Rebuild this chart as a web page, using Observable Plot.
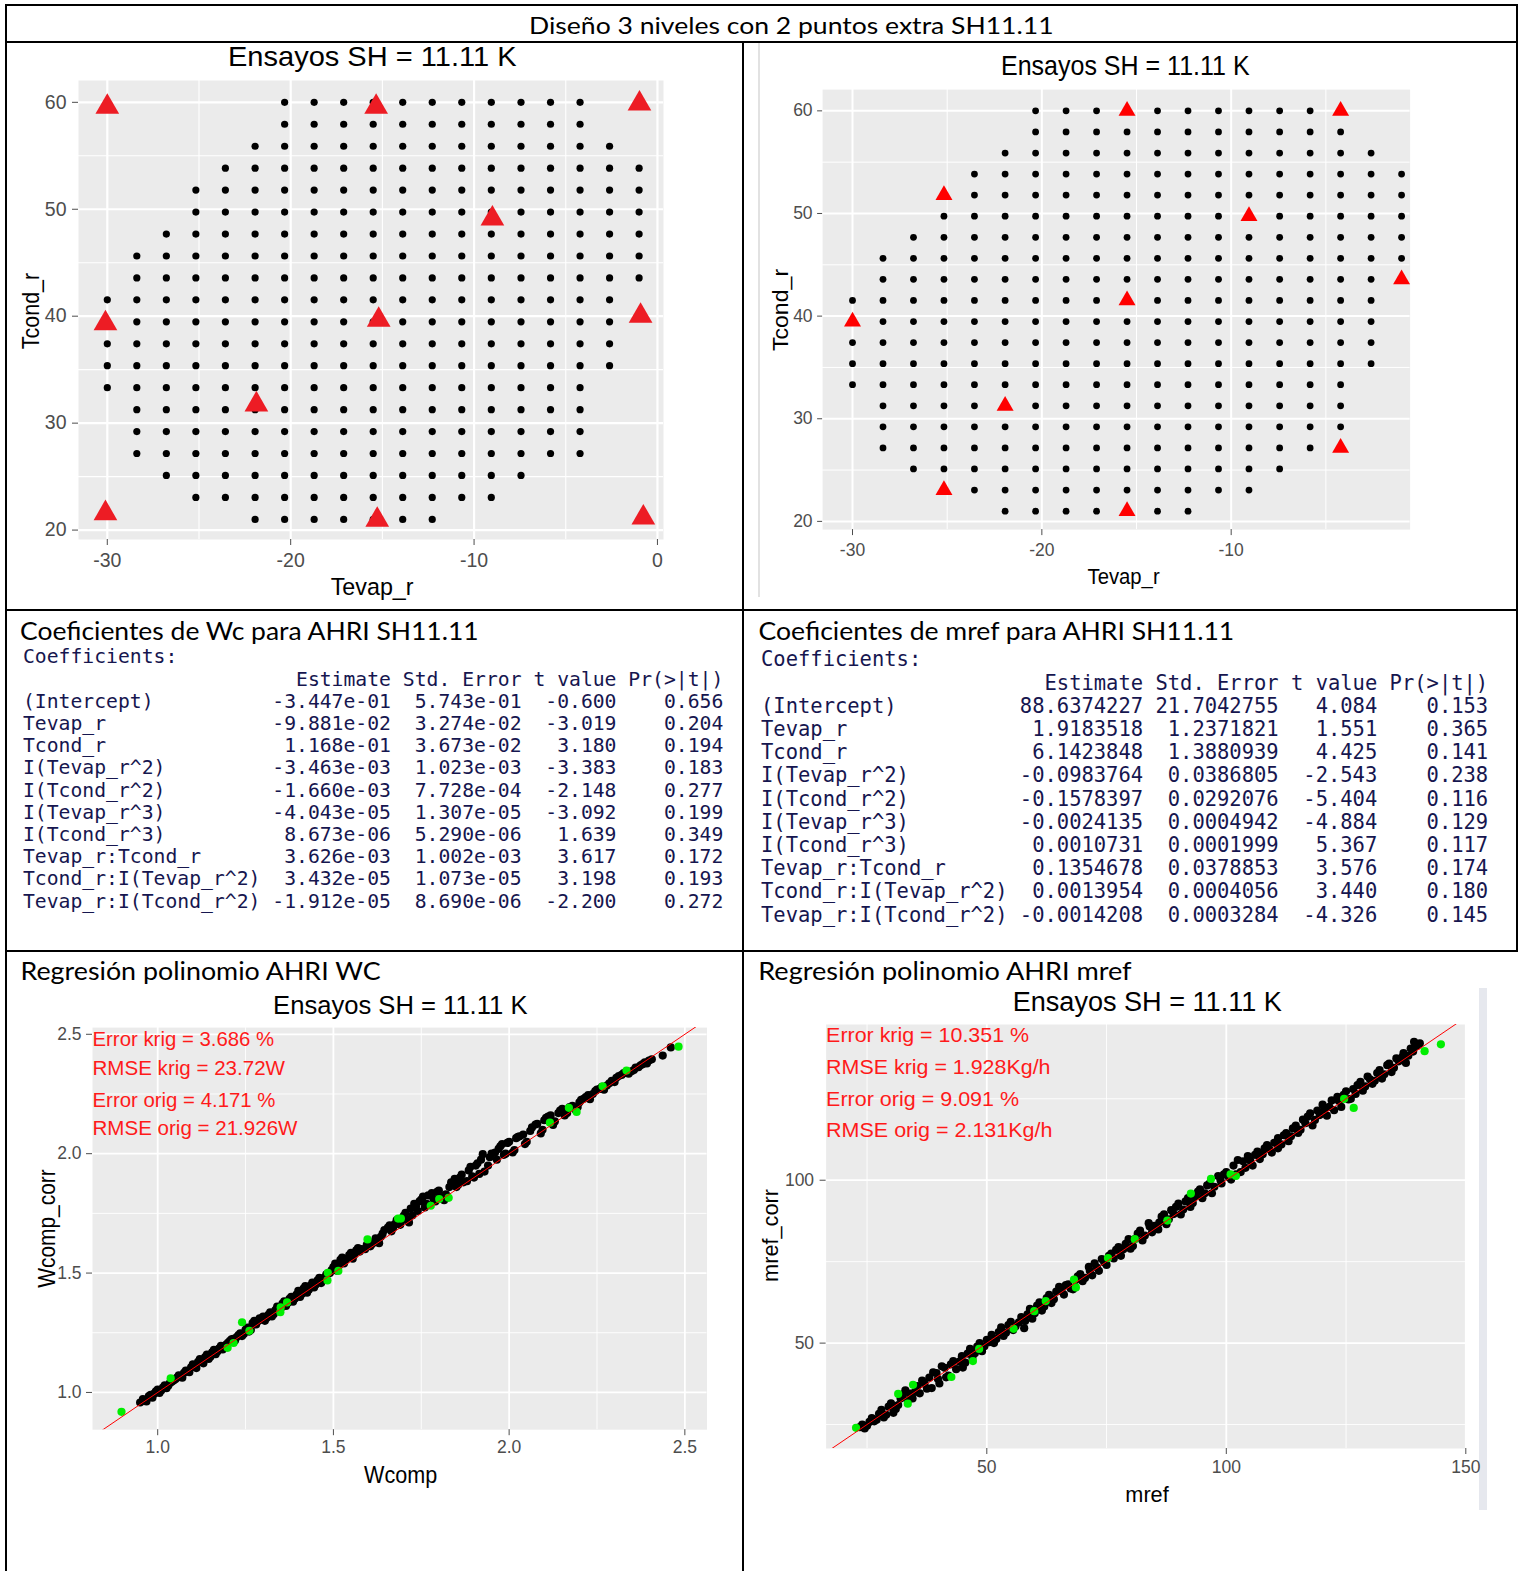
<!DOCTYPE html>
<html><head><meta charset="utf-8">
<script src="https://cdn.jsdelivr.net/npm/d3@7"></script>
<script src="https://cdn.jsdelivr.net/npm/@observablehq/plot@0.6"></script>
<style>
html,body{margin:0;padding:0;background:#fff;overflow:hidden;}
#page{position:relative;width:1521px;height:1571px;overflow:hidden;background:#fff;}
.lbl{position:absolute;white-space:nowrap;line-height:1;}
pre.tbl{position:absolute;margin:0;font-family:"DejaVu Sans Mono",monospace;color:#16164f;white-space:pre;}
.ln{position:absolute;background:#000;}
</style></head><body><div id="page"></div>
<script>
// ---------------- DATA ----------------
const figTitle = "Diseño 3 niveles con 2 puntos extra SH11.11";
const plotTitle = "Ensayos SH = 11.11 K";
const headWc = "Coeficientes de Wc para AHRI SH11.11";
const headMref = "Coeficientes de mref para AHRI SH11.11";
const headRegWc = "Regresión polinomio AHRI WC";
const headRegMref = "Regresión polinomio AHRI mref";

// test grid (Tevap_r columns, Tcond_r rows)
const tevapLevels = [-30,-28.39,-26.78,-25.17,-23.56,-21.94,-20.33,-18.72,-17.11,-15.5,-13.89,-12.28,-10.67,-9.06,-7.44,-5.83,-4.22,-2.61,-1];
const tcondLevels = [60,57.95,55.89,53.84,51.79,49.74,47.68,45.63,43.58,41.53,39.47,37.42,35.37,33.32,31.26,29.21,27.16,25.11,23.05,21];
// first and last column index present in each row
const rowSpanLeft  = [[6,16],[6,16],[5,17],[4,18],[3,18],[3,18],[2,18],[1,18],[1,18],[0,17],[0,17],[0,17],[0,17],[0,16],[1,16],[1,16],[1,16],[2,14],[3,13],[5,11]];
const rowSpanRight = [[6,16],[6,16],[5,17],[4,18],[4,18],[3,18],[2,18],[1,18],[1,17],[0,17],[1,17],[0,17],[0,17],[0,16],[1,16],[1,16],[1,15],[2,14],[4,13],[5,11]];
// design points (red triangles)
const triLeftTevap = [-30,-15.34,-0.98,-9.0,-30.1,-15.2,-0.92,-21.87,-30.1,-15.28,-0.77];
const triLeftTcond = [59.56,59.56,59.87,49.11,39.32,39.66,40.03,31.74,21.57,20.96,21.17];
const triRightTevap = [-15.5,-4.22,-25.17,-9.06,-1,-15.5,-30,-21.94,-4.22,-25.17,-15.5];
const triRightTcond = [60,60,51.79,49.74,43.58,41.53,39.47,31.26,27.16,23.05,21];

// coefficient tables
const coefNames = ["(Intercept)","Tevap_r","Tcond_r","I(Tevap_r^2)","I(Tcond_r^2)","I(Tevap_r^3)","I(Tcond_r^3)","Tevap_r:Tcond_r","Tcond_r:I(Tevap_r^2)","Tevap_r:I(Tcond_r^2)"];
const coefHeader = ["Estimate","Std. Error","t value","Pr(>|t|)"];
const wcEstimate = ["-3.447e-01","-9.881e-02","1.168e-01","-3.463e-03","-1.660e-03","-4.043e-05","8.673e-06","3.626e-03","3.432e-05","-1.912e-05"];
const wcStdErr = ["5.743e-01","3.274e-02","3.673e-02","1.023e-03","7.728e-04","1.307e-05","5.290e-06","1.002e-03","1.073e-05","8.690e-06"];
const wcTvalue = ["-0.600","-3.019","3.180","-3.383","-2.148","-3.092","1.639","3.617","3.198","-2.200"];
const wcPvalue = ["0.656","0.204","0.194","0.183","0.277","0.199","0.349","0.172","0.193","0.272"];
const mrefEstimate = ["88.6374227","1.9183518","6.1423848","-0.0983764","-0.1578397","-0.0024135","0.0010731","0.1354678","0.0013954","-0.0014208"];
const mrefStdErr = ["21.7042755","1.2371821","1.3880939","0.0386805","0.0292076","0.0004942","0.0001999","0.0378853","0.0004056","0.0003284"];
const mrefTvalue = ["4.084","1.551","4.425","-2.543","-5.404","-4.884","5.367","3.576","3.440","-4.326"];
const mrefPvalue = ["0.153","0.365","0.141","0.238","0.116","0.129","0.117","0.174","0.180","0.145"];

// regression Wcomp: [Wcomp, Wcomp_corr]
const wcBlack = [[0.950,0.958],[0.962,0.965],[0.975,0.985],[0.985,0.978],[0.995,1.005],[1.005,0.998],[1.015,1.020],[1.025,1.018],[1.035,1.040],[1.045,1.050],[1.055,1.062],[1.065,1.070],[1.075,1.082],[1.085,1.090],[1.095,1.105],[1.105,1.110],[1.115,1.128],[1.125,1.130],[1.135,1.148],[1.145,1.140],[1.155,1.168],[1.165,1.160],[1.175,1.185],[1.185,1.180],[1.195,1.200],[1.205,1.215],[1.215,1.225],[1.225,1.232],[1.235,1.248],[1.245,1.245],[1.255,1.272],[1.265,1.262],[1.275,1.300],[1.285,1.298],[1.295,1.305],[1.305,1.300],[1.315,1.325],[1.325,1.318],[1.335,1.345],[1.345,1.340],[1.355,1.372],[1.365,1.362],[1.375,1.392],[1.385,1.380],[1.395,1.410],[1.405,1.400],[1.415,1.435],[1.425,1.418],[1.435,1.448],[1.445,1.440],[1.455,1.470],[1.465,1.458],[1.475,1.482],[1.490,1.500],[1.500,1.525],[1.510,1.510],[1.520,1.555],[1.530,1.540],[1.545,1.575],[1.555,1.560],[1.565,1.595],[1.575,1.590],[1.590,1.600],[1.605,1.612],[1.615,1.630],[1.630,1.625],[1.640,1.665],[1.655,1.690],[1.665,1.675],[1.675,1.705],[1.690,1.702],[1.700,1.740],[1.715,1.712],[1.720,1.770],[1.735,1.780],[1.745,1.800],[1.755,1.820],[1.765,1.790],[1.780,1.835],[1.790,1.800],[1.800,1.845],[1.815,1.805],[1.830,1.860],[1.845,1.895],[1.855,1.870],[1.865,1.912],[1.880,1.885],[1.890,1.945],[1.900,1.900],[1.910,1.960],[1.925,1.998],[1.930,1.925],[1.945,1.985],[1.960,2.005],[1.975,2.031],[1.985,1.995],[1.995,2.045],[2.010,2.005],[2.020,2.065],[2.030,2.073],[2.045,2.040],[2.060,2.095],[2.075,2.122],[2.090,2.085],[2.100,2.140],[2.111,2.155],[2.125,2.120],[2.140,2.170],[2.151,2.188],[2.165,2.170],[2.180,2.200],[2.195,2.195],[2.205,2.225],[2.218,2.237],[2.230,2.228],[2.245,2.262],[2.258,2.271],[2.270,2.268],[2.285,2.295],[2.300,2.300],[2.312,2.325],[2.326,2.337],[2.340,2.335],[2.355,2.350],[2.368,2.362],[2.380,2.375],[2.392,2.378],[2.406,2.395],[2.437,2.411],[2.460,2.445],
  [0.958,0.972],[0.968,0.962],[0.980,0.990],[0.990,0.995],[1.000,1.012],[1.010,1.008],[1.020,1.030],[1.030,1.028],[1.040,1.045],[1.050,1.055],[1.060,1.072],[1.070,1.062],[1.080,1.092],[1.090,1.085],[1.100,1.118],[1.110,1.102],[1.120,1.140],[1.130,1.122],[1.140,1.158],[1.150,1.150],[1.160,1.178],[1.170,1.172],[1.180,1.195],[1.190,1.188],[1.200,1.208],[1.210,1.222],[1.220,1.218],[1.230,1.240],[1.240,1.236],[1.250,1.262],[1.260,1.255],[1.270,1.290],[1.280,1.285],[1.290,1.310],[1.300,1.318],[1.310,1.312],[1.320,1.335],[1.330,1.328],[1.340,1.360],[1.350,1.352],[1.360,1.382],[1.370,1.375],[1.380,1.400],[1.390,1.392],[1.400,1.425],[1.410,1.412],[1.420,1.445],[1.430,1.430],[1.440,1.460],[1.450,1.452],[1.460,1.480],[1.470,1.470],[1.480,1.495],[1.495,1.512],[1.505,1.540],[1.515,1.530],[1.525,1.565],[1.535,1.555],[1.550,1.585],[1.560,1.578],[1.570,1.605],[1.580,1.600],[1.595,1.618],[1.610,1.622],[1.620,1.645],[1.635,1.652],[1.645,1.680],[1.660,1.700],[1.670,1.690],[1.680,1.722],[1.695,1.720],[1.705,1.752],[1.710,1.725],[1.725,1.742],[1.730,1.790],[1.740,1.760],[1.750,1.808],[1.760,1.775],[1.770,1.825],[1.785,1.810],[1.795,1.840],[1.805,1.822],[1.820,1.830],[1.835,1.880],[1.850,1.860],[1.860,1.900],[1.870,1.880],[1.885,1.930],[1.895,1.905],[1.905,1.950],[1.915,1.915],[1.920,1.975],[1.940,1.950],[1.950,2.000],[1.965,1.975],[1.970,2.020],[1.980,2.040],[1.990,2.000],[2.000,2.050],[2.015,2.015],[2.025,2.070],[2.040,2.080],[2.050,2.050],[2.065,2.110],[2.080,2.125],[2.095,2.100],[2.105,2.150],[2.118,2.160],[2.130,2.135],[2.145,2.180],[2.158,2.160],[2.172,2.195],[2.188,2.185],[2.200,2.215],[2.212,2.230],[2.225,2.245],[2.238,2.250],[2.250,2.268],[2.264,2.280],[2.278,2.285],[2.292,2.305],[2.305,2.318],[2.320,2.330],[2.333,2.340],[2.348,2.345],[2.360,2.360],[2.374,2.370],[2.386,2.382],[2.398,2.390]];
const wcGreen = [[0.897,0.919],[1.037,1.059],[1.199,1.187],[1.216,1.207],[1.240,1.294],[1.261,1.258],[1.349,1.336],[1.350,1.356],[1.368,1.377],[1.483,1.469],[1.484,1.501],[1.514,1.509],[1.597,1.641],[1.684,1.728],[1.692,1.728],[1.777,1.782],[1.801,1.810],[1.828,1.815],[2.116,2.130],[2.170,2.192],[2.192,2.175],[2.266,2.282],[2.334,2.348],[2.482,2.448]];
const wcIdentity = [0.5, 3];
const wcAnnot = ["Error krig = 3.686 %","RMSE krig = 23.72W","Error orig = 4.171 %","RMSE orig = 21.926W"];
const wcAnnotY = [2.478, 2.357, 2.225, 2.106];

// regression mref: [mref, mref_corr]
const mrefBlack = [[23.5,24.2],[24.5,23.8],[25.5,25.8],[26.5,26.0],[27.5,28.3],[28.5,27.2],[29.5,30.5],[30.5,28.6],[31.5,31.0],[32.5,34.2],[33.5,32.4],[34.5,33.0],[35.5,36.8],[36.0,34.6],[37.0,37.5],[38.0,39.4],[38.5,36.2],[39.5,40.8],[40.1,37.6],[41.2,42.4],[42.0,40.0],[43.0,44.5],[44.3,44.3],[45.0,42.5],[46.0,46.8],[47.0,45.5],[48.0,48.9],[49.0,47.5],[50.0,51.0],[50.5,50.3],[51.5,50.0],[52.5,53.4],[53.5,52.2],[54.5,55.5],[55.5,54.0],[56.7,56.4],[57.8,54.6],[58.5,58.8],[59.5,57.5],[60.5,61.5],[61.5,60.0],[62.5,63.8],[63.5,62.3],[64.5,65.8],[65.1,67.3],[66.1,64.9],[67.0,68.0],[68.0,66.5],[69.0,70.5],[70.0,69.0],[71.3,73.4],[72.0,70.8],[73.4,72.2],[74.0,75.8],[75.0,74.0],[76.0,77.5],[77.5,79.5],[78.0,76.8],[79.6,81.9],[80.5,79.8],[81.5,83.6],[82.5,81.5],[83.8,86.8],[84.5,84.0],[85.8,84.9],[86.5,88.8],[87.5,86.5],[88.5,90.8],[90.0,92.8],[90.5,89.5],[91.5,93.5],[92.5,91.8],[94.1,96.5],[95.0,94.5],[96.0,98.4],[97.0,96.0],[98.3,101.3],[99.0,99.0],[100.0,102.5],[101.0,100.2],[102.4,106.2],[103.0,102.5],[104.5,107.4],[105.5,104.5],[106.5,108.8],[107.6,108.0],[108.5,110.8],[109.5,108.5],[110.8,112.9],[110.8,109.8],[112.0,113.8],[113.0,112.0],[113.9,115.9],[115.0,114.5],[116.0,118.6],[117.0,119.5],[118.0,116.8],[119.0,121.4],[120.1,123.2],[121.0,119.8],[122.0,124.5],[123.2,125.6],[124.0,122.5],[125.0,127.3],[126.0,125.0],[127.4,129.2],[128.5,127.5],[129.5,131.8],[130.5,129.6],[131.5,132.9],[132.5,131.2],[133.6,135.3],[134.5,133.2],[135.5,137.4],[136.7,137.7],[137.5,136.0],[138.5,140.4],[139.2,142.5],[140.4,142.0],
  [24.0,25.0],[25.0,24.6],[26.0,27.0],[27.0,26.5],[28.0,29.5],[29.0,28.0],[30.0,31.5],[31.0,29.8],[32.0,33.0],[33.0,35.5],[34.0,34.5],[35.0,35.0],[36.5,38.5],[37.5,36.0],[38.8,41.0],[39.8,39.0],[40.6,42.9],[41.5,39.5],[42.5,43.5],[43.6,42.0],[44.8,46.0],[45.5,44.0],[46.5,48.2],[47.5,46.9],[48.5,50.0],[49.5,49.0],[51.0,52.5],[52.0,51.3],[53.0,54.8],[54.0,53.2],[55.0,56.5],[56.0,55.2],[57.2,58.0],[58.0,56.8],[59.0,60.5],[60.0,59.2],[61.0,62.5],[62.0,61.2],[63.0,64.8],[64.0,63.5],[65.6,66.0],[66.5,67.8],[67.5,66.8],[68.5,69.3],[69.5,71.2],[70.5,70.0],[71.5,72.2],[72.5,74.5],[73.0,73.2],[74.5,74.8],[75.5,76.8],[76.5,76.0],[77.0,78.6],[78.5,78.8],[79.0,80.5],[80.0,79.0],[81.0,82.0],[82.0,84.5],[83.0,83.0],[84.0,85.8],[85.0,86.0],[86.0,87.0],[87.0,89.5],[88.0,88.0],[89.0,89.6],[89.5,91.8],[91.0,91.0],[92.0,94.5],[93.0,93.0],[93.5,95.0],[94.5,97.2],[95.5,96.0],[96.5,99.0],[97.5,98.0],[98.8,100.0],[99.5,101.8],[100.5,101.0],[101.5,104.5],[102.0,101.8],[103.5,105.8],[104.0,103.8],[105.0,106.0],[106.0,107.8],[107.0,106.5],[108.0,109.8],[109.0,109.5],[110.0,111.5],[111.5,111.0],[112.5,114.5],[113.5,113.5],[114.5,116.8],[115.5,115.5],[116.5,117.5],[117.5,120.5],[118.5,118.5],[119.5,120.0],[120.5,121.8],[121.5,122.5],[122.5,121.5],[123.5,124.3],[124.5,126.2],[125.5,124.8],[126.5,128.0],[127.0,126.5],[128.0,130.2],[129.0,128.8],[130.0,131.0],[131.0,130.5],[132.0,133.8],[133.0,132.5],[134.0,135.8],[135.0,134.5],[136.0,136.5],[137.0,139.0],[138.0,138.2],[139.0,139.5],[139.8,141.2]];
const mrefGreen = [[22.7,24.0],[31.5,34.4],[33.5,31.4],[34.6,37.2],[42.6,39.6],[47.1,44.5],[48.4,48.2],[55.6,54.4],[59.9,59.8],[62.3,62.9],[68.2,69.5],[68.6,67.1],[75.3,76.1],[80.9,81.9],[87.7,87.6],[92.6,95.9],[96.8,100.4],[100.9,101.8],[102.0,101.3],[124.6,125.0],[126.6,122.2],[141.4,139.6],[144.8,141.7]];
const mrefIdentity = [0, 160];
const mrefAnnot = ["Error krig = 10.351 %","RMSE krig = 1.928Kg/h","Error orig = 9.091 %","RMSE orig = 2.131Kg/h"];
const mrefAnnotY = [144.4, 134.7, 124.8, 115.3];

// ---------------- HELPERS ----------------
const page = document.getElementById("page");
function line(x, y, w, h, color = "#000") {
  const d = document.createElement("div");
  d.className = "ln";
  Object.assign(d.style, {left: x + "px", top: y + "px", width: w + "px", height: h + "px", background: color});
  page.appendChild(d);
}
function label(text, {cx, cy, w, size, font = "Liberation Sans, Arial, sans-serif", color = "#000", rotate = false, sy = 1}) {
  const s = document.createElement("span");
  s.className = "lbl";
  s.textContent = text;
  s.style.fontFamily = font;
  s.style.fontSize = size + "px";
  s.style.color = color;
  page.appendChild(s);
  const w0 = s.offsetWidth, h0 = s.offsetHeight;
  s.style.left = (cx - w0 / 2) + "px";
  s.style.top = (cy - h0 / 2) + "px";
  s.style.transformOrigin = "50% 50%";
  s.style.transform = (rotate ? "rotate(-90deg) " : "") + `scale(${w ? w / w0 : 1}, ${sy})`;
}
function table(est, se, tv, pv, {x, cy0, lh, size, w}) {
  const lines = ["Coefficients:",
    "".padEnd(20) + " " + coefHeader[0].padStart(10) + " " + coefHeader[1].padStart(10) + " " + coefHeader[2].padStart(7) + " " + coefHeader[3].padStart(8)];
  coefNames.forEach((n, i) => lines.push(n.padEnd(20) + " " + est[i].padStart(10) + " " + se[i].padStart(10) + " " + tv[i].padStart(7) + " " + pv[i].padStart(8)));
  const p = document.createElement("pre");
  p.className = "tbl";
  p.textContent = lines.join("\n");
  p.style.fontSize = size + "px";
  p.style.lineHeight = lh + "px";
  page.appendChild(p);
  const w0 = p.offsetWidth;
  p.style.left = x + "px";
  p.style.top = (cy0 - lh / 2) + "px";
  p.style.transformOrigin = "0 0";
  p.style.transform = `scaleX(${w / w0})`;
}
function ggplot(o) {
  const svg = Plot.plot({
    width: o.w, height: o.h,
    marginTop: o.m[0], marginRight: o.m[1], marginBottom: o.m[2], marginLeft: o.m[3],
    x: {domain: o.xd}, y: {domain: o.yd},
    style: {background: "transparent", overflow: "visible", fontFamily: "Liberation Sans, Arial, sans-serif", color: "#000"},
    marks: [
      Plot.frame({fill: "#EBEBEB", stroke: "none"}),
      Plot.ruleX(o.xMinor, {stroke: "#fff", strokeWidth: o.minorW}),
      Plot.ruleY(o.yMinor, {stroke: "#fff", strokeWidth: o.minorW}),
      Plot.ruleX(o.xMajor, {stroke: "#fff", strokeWidth: o.majorW}),
      Plot.ruleY(o.yMajor, {stroke: "#fff", strokeWidth: o.majorW}),
      Plot.axisX({ticks: o.xMajor, tickFormat: o.fmt, tickSize: o.xt[0], tickPadding: o.xt[1], fontSize: o.fs, color: "#4D4D4D", label: null}),
      Plot.axisY({ticks: o.yMajor, tickFormat: o.fmt, tickSize: o.yt[0], tickPadding: o.yt[1], fontSize: o.fs, color: "#4D4D4D", label: null}),
      ...o.marks
    ]
  });
  svg.style.position = "absolute";
  svg.style.left = o.left + "px";
  svg.style.top = o.top + "px";
  svg.style.maxWidth = "none";
  page.appendChild(svg);
  return svg;
}
function gridDots(spans) {
  const out = [];
  spans.forEach(([a, b], j) => { for (let i = a; i <= b; i++) out.push({x: tevapLevels[i], y: tcondLevels[j]}); });
  return out;
}
function fitTexts(svg, widths) {
  svg.querySelectorAll('g[aria-label="text"] text').forEach((t, i) => {
    if (widths[i]) { t.setAttribute("textLength", widths[i]); t.setAttribute("lengthAdjust", "spacingAndGlyphs"); }
  });
}
const fmtStr = d => String(d);

// ---------------- TOP-LEFT ----------------
ggplot({
  left: 0, top: 42, w: 742, h: 568, m: [38, 79, 71, 78],
  xd: [-31.57, 0.33], yd: [19.12, 62.04],
  xMajor: [-30, -20, -10, 0], xMinor: [-25, -15, -5],
  yMajor: [20, 30, 40, 50, 60], yMinor: [25, 35, 45, 55],
  majorW: 2.2, minorW: 1.1, fs: 19.5, fmt: fmtStr, xt: [6, 8], yt: [6, 6],
  marks: [
    Plot.dot(gridDots(rowSpanLeft), {x: "x", y: "y", r: 3.6, fill: "#000"}),
    Plot.dot(triLeftTevap.map((x, i) => ({x, y: triLeftTcond[i]})), {x: "x", y: "y", symbol: "triangle", r: 8.8, fill: "#ED1C24"})
  ]
});
label(plotTitle, {cx: 371.8, cy: 56.4, w: 288, size: 26, sy: 1.08});
label("Tevap_r", {cx: 372, cy: 587, w: 82.6, size: 22, sy: 1.08});
label("Tcond_r", {cx: 30.5, cy: 311, w: 76, size: 22, rotate: true, sy: 1.08});

// ---------------- TOP-RIGHT ----------------
line(758, 43, 2, 554, "#e2e2e2");
ggplot({
  left: 742, top: 42, w: 779, h: 568, m: [47.1, 111.4, 80.9, 80.1],
  xd: [-31.58, -0.55], yd: [19.2, 62.07],
  xMajor: [-30, -20, -10], xMinor: [-25, -15, -5],
  yMajor: [20, 30, 40, 50, 60], yMinor: [25, 35, 45, 55],
  majorW: 2, minorW: 1, fs: 17.5, fmt: fmtStr, xt: [6, 8], yt: [5, 5],
  marks: [
    Plot.dot(gridDots(rowSpanRight), {x: "x", y: "y", r: 3.4, fill: "#000"}),
    Plot.dot(triRightTevap.map((x, i) => ({x, y: triRightTcond[i]})), {x: "x", y: "y", symbol: "triangle", r: 6.3, fill: "#FF0000"})
  ]
});
label(plotTitle, {cx: 1125.6, cy: 66.2, w: 249, size: 24, sy: 1.12});
label("Tevap_r", {cx: 1123, cy: 576, w: 72, size: 20, sy: 1.1});
label("Tcond_r", {cx: 780, cy: 310, w: 82, size: 20, rotate: true, sy: 1.1});

// ---------------- TABLES ----------------
label(headWc, {cx: 249.5, cy: 631, w: 459, size: 24.5, font: "Lato, 'Noto Sans', sans-serif"});
label(headMref, {cx: 996.5, cy: 631, w: 476, size: 24.5, font: "Lato, 'Noto Sans', sans-serif"});
table(wcEstimate, wcStdErr, wcTvalue, wcPvalue, {x: 22.7, cy0: 657.5, lh: 22.2, size: 19.7, w: 700});
table(mrefEstimate, mrefStdErr, mrefTvalue, mrefPvalue, {x: 761, cy0: 660, lh: 23.2, size: 20.5, w: 727});

// ---------------- BOTTOM-LEFT ----------------
label(headRegWc, {cx: 200, cy: 971, w: 360, size: 24.5, font: "Lato, 'Noto Sans', sans-serif"});
const svgWc = ggplot({
  left: 0, top: 950, w: 742, h: 621, m: [77.1, 35.5, 141.8, 92],
  xd: [0.8145, 2.563], yd: [0.844, 2.528],
  xMajor: [1, 1.5, 2, 2.5], xMinor: [1.25, 1.75, 2.25],
  yMajor: [1, 1.5, 2, 2.5], yMinor: [1.25, 1.75, 2.25],
  majorW: 1.8, minorW: 0.9, fs: 17.5, fmt: d => d.toFixed(1), xt: [6, 5], yt: [6, 5],
  marks: [
    Plot.dot(wcBlack, {x: d => d[0], y: d => d[1], r: 4.1, fill: "#000"}),
    Plot.dot(wcGreen, {x: d => d[0], y: d => d[1], r: 4.1, fill: "#00ee00"}),
    Plot.line(wcIdentity, {x: d => d, y: d => d, stroke: "#FF0000", strokeWidth: 1, clip: true}),
    Plot.text(wcAnnot, {x: () => 0.8145, y: (d, i) => wcAnnotY[i], text: d => d, textAnchor: "start", fill: "#FF1A1A", fontSize: 20.5})
  ]
});
fitTexts(svgWc, [181.7, 192.5, 183, 205]);
label(plotTitle, {cx: 400.2, cy: 1005.4, w: 254.8, size: 24, sy: 1.1});
label("Wcomp", {cx: 400, cy: 1474, w: 73, size: 21, sy: 1.1});
label("Wcomp_corr", {cx: 46, cy: 1228.8, w: 118.6, size: 21, rotate: true, sy: 1.1});

// ---------------- BOTTOM-RIGHT ----------------
label(headRegMref, {cx: 945.3, cy: 971, w: 373.5, size: 24.5, font: "Lato, 'Noto Sans', sans-serif"});
line(1479, 988, 8, 522, "#e6e8ee");
const svgMref = ggplot({
  left: 742, top: 950, w: 779, h: 621, m: [74, 55.7, 123, 83.6],
  xd: [16.45, 150], yd: [17.65, 147.8],
  xMajor: [50, 100, 150], xMinor: [25, 75, 125],
  yMajor: [50, 100], yMinor: [25, 75, 125],
  majorW: 1.8, minorW: 0.9, fs: 17.5, fmt: fmtStr, xt: [6, 6], yt: [6, 6],
  marks: [
    Plot.dot(mrefBlack, {x: d => d[0], y: d => d[1], r: 4.1, fill: "#000"}),
    Plot.dot(mrefGreen, {x: d => d[0], y: d => d[1], r: 4.1, fill: "#00ee00"}),
    Plot.line(mrefIdentity, {x: d => d, y: d => d, stroke: "#FF0000", strokeWidth: 1, clip: true}),
    Plot.text(mrefAnnot, {x: () => 16.45, y: (d, i) => mrefAnnotY[i], text: d => d, textAnchor: "start", fill: "#FF1A1A", fontSize: 21})
  ]
});
fitTexts(svgMref, [203, 224.4, 193, 226.4]);
label(plotTitle, {cx: 1147.5, cy: 1001.4, w: 269.7, size: 25, sy: 1.08});
label("mref", {cx: 1147.2, cy: 1493.7, w: 43.3, size: 21, sy: 1.08});
label("mref_corr", {cx: 769.5, cy: 1235, w: 93, size: 21, rotate: true, sy: 1.08});

// ---------------- TITLE ROW & BORDERS ----------------
label(figTitle, {cx: 791.5, cy: 25, w: 525, size: 23, font: "Lato, 'Noto Sans', sans-serif"});
line(5, 4, 1513, 2);      // top
line(5, 41, 1513, 2);     // under title
line(5, 609, 1513, 2);    // under plots
line(5, 950, 1513, 2);    // under tables
line(5, 4, 2, 1567);      // left
line(742, 41, 2, 1530);   // middle divider
line(1516, 4, 2, 948);    // right
</script></body></html>
